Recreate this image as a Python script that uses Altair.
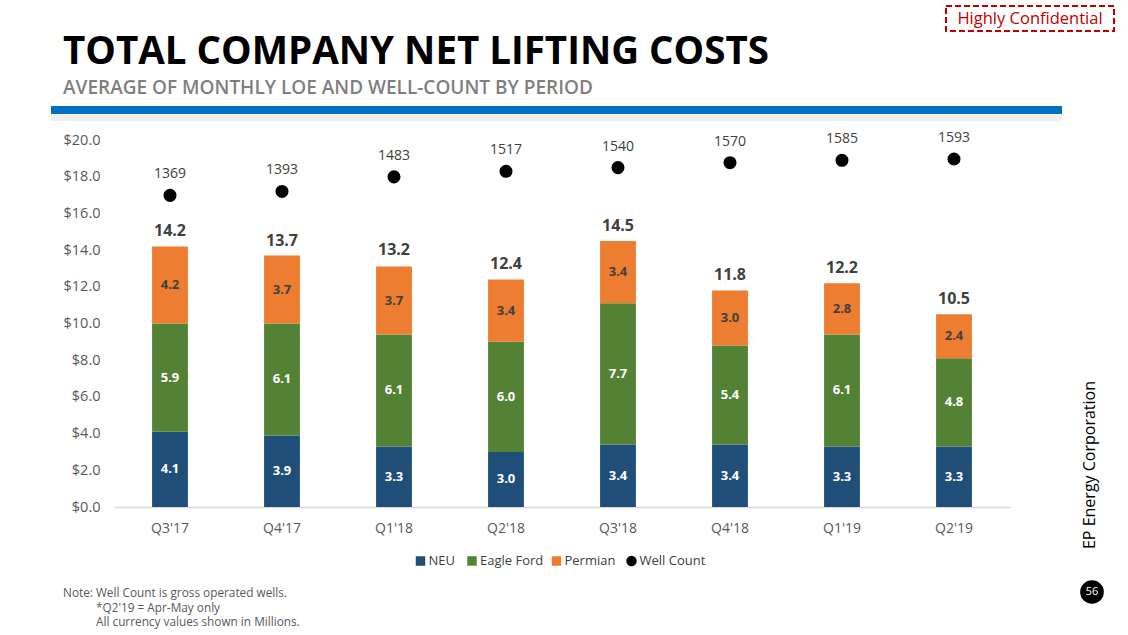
import altair as alt
import pandas as pd

# ---- data ----
quarters = ["Q3'17", "Q4'17", "Q1'18", "Q2'18", "Q3'18", "Q4'18", "Q1'19", "Q2'19"]
neu = [4.1, 3.9, 3.3, 3.0, 3.4, 3.4, 3.3, 3.3]
eagle_ford = [5.9, 6.1, 6.1, 6.0, 7.7, 5.4, 6.1, 4.8]
permian = [4.2, 3.7, 3.7, 3.4, 3.4, 3.0, 2.8, 2.4]
totals = [14.2, 13.7, 13.2, 12.4, 14.5, 11.8, 12.2, 10.5]
well_count = [1369, 1393, 1483, 1517, 1540, 1570, 1585, 1593]
series = ["NEU", "Eagle Ford", "Permian"]
colors = ["#1f4e79", "#548235", "#ed7d31"]
label_colors = ["#ffffff", "#ffffff", "#404040"]
y_ticks = [0, 2, 4, 6, 8, 10, 12, 14, 16, 18, 20]

FONT = "Open Sans"

rows = []
for qi, q in enumerate(quarters):
    base = 0.0
    for si, vals in enumerate([neu, eagle_ford, permian]):
        v = vals[qi]
        rows.append(dict(quarter=q, series=series[si], ord=si, y0=base, y1=base + v,
                         mid=base + v / 2, lab=f"{v:.1f}", lcolor=label_colors[si]))
        base += v
seg = pd.DataFrame(rows)
tot = pd.DataFrame({"quarter": quarters, "total": totals,
                    "lab": [f"{t:.1f}" for t in totals]})
wc = pd.DataFrame({"quarter": quarters, "wells": well_count,
                   "lab": [str(w) for w in well_count]})

xscale = alt.Scale(paddingInner=0.68, paddingOuter=0.34)
xaxis = alt.Axis(title=None, labelAngle=0, domainColor="#d9d9d9", domainWidth=1.5,
                 ticks=False, labelFont=FONT, labelFontSize=14, labelColor="#595959",
                 labelPadding=14)
xenc = alt.X("quarter:N", sort=quarters, scale=xscale, axis=xaxis)
yscale = alt.Scale(domain=[0, 20], nice=False, zero=True)
yaxis = alt.Axis(title=None, values=y_ticks, format="$.1f", domain=False, ticks=False,
                 grid=False, labelFont=FONT, labelFontSize=14.5, labelColor="#595959",
                 labelPadding=14)

bars = alt.Chart(seg).mark_bar().encode(
    x=xenc,
    y=alt.Y("y0:Q", scale=yscale, axis=yaxis),
    y2="y1:Q",
    color=alt.Color("series:N", scale=alt.Scale(domain=series, range=colors), legend=None),
)
seg_text = alt.Chart(seg).mark_text(font=FONT, fontSize=13, fontWeight="bold").encode(
    x=xenc,
    y=alt.Y("mid:Q", scale=yscale, axis=yaxis),
    text="lab:N",
    color=alt.Color("lcolor:N", scale=None),
)
tot_text = alt.Chart(tot).mark_text(font=FONT, fontSize=16, fontWeight="bold",
                                    color="#404040", baseline="bottom", dy=-7).encode(
    x=xenc,
    y=alt.Y("total:Q", scale=yscale, axis=yaxis),
    text="lab:N",
)
money = alt.layer(bars, seg_text, tot_text)

wscale = alt.Scale(domain=[-550, 1710], nice=False, zero=False)
dots = alt.Chart(wc).mark_circle(size=170, color="#000000", opacity=1).encode(
    x=xenc,
    y=alt.Y("wells:Q", scale=wscale, axis=None),
)
dot_text = alt.Chart(wc).mark_text(font=FONT, fontSize=14, color="#404040",
                                   baseline="bottom", dy=-14).encode(
    x=xenc,
    y=alt.Y("wells:Q", scale=wscale, axis=None),
    text="lab:N",
)
wells = alt.layer(dots, dot_text)


def txt(text, x, y, **kw):
    return alt.Chart(pd.DataFrame({"t": [text]})).mark_text(**kw).encode(
        x=alt.value(x), y=alt.value(y), text="t:N")


deco = [
    txt("TOTAL COMPANY NET LIFTING COSTS", -51, -76, font=FONT, fontSize=38.5,
        fontWeight="bold", color="#000000", align="left", baseline="alphabetic"),
    txt("AVERAGE OF MONTHLY LOE AND WELL-COUNT BY PERIOD", -51, -46.5, font=FONT,
        fontSize=19, fontWeight=600, color="#7f7f7f", align="left", baseline="alphabetic"),
    alt.Chart(pd.DataFrame({"a": [0]})).mark_rule(color="#0070c0", strokeWidth=8).encode(
        x=alt.value(-63), x2=alt.value(948), y=alt.value(-30)),
    alt.Chart(pd.DataFrame({"a": [0]})).mark_rule(color="#efefef", strokeWidth=6).encode(
        x=alt.value(-63), x2=alt.value(948), y=alt.value(-22)),
    alt.Chart(pd.DataFrame({"a": [0]})).mark_rect(fill=None, fillOpacity=0, stroke="#c00000",
                                                  strokeWidth=2, strokeDash=[6, 3]).encode(
        x=alt.value(832), x2=alt.value(1000), y=alt.value(-134), y2=alt.value(-109)),
    txt("Highly Confidential", 916, -121, font=FONT, fontSize=16.5, color="#c00000",
        align="center", baseline="middle"),
    txt("EP Energy Corporation", 976, 325, font=FONT, fontSize=16, color="#000000",
        align="center", baseline="middle", angle=270),
    alt.Chart(pd.DataFrame({"a": [0]})).mark_circle(size=560, color="#000000", opacity=1).encode(
        x=alt.value(978), y=alt.value(452)),
    txt("56", 978, 452, font=FONT, fontSize=11, color="#ffffff", align="center",
        baseline="middle"),
    txt("Note: Well Count is gross operated wells.", -51, 453, font=FONT, fontSize=11.8,
        color="#595959", align="left", baseline="middle"),
    txt("*Q2'19 = Apr-May only", -18, 467.5, font=FONT, fontSize=11.8,
        color="#595959", align="left", baseline="middle"),
    txt("All currency values shown in Millions.", -18, 482, font=FONT, fontSize=11.8,
        color="#595959", align="left", baseline="middle"),
]

# legend
leg_items = [("NEU", colors[0], 306.5, "square"), ("Eagle Ford", colors[1], 358, "square"),
             ("Permian", colors[2], 442.5, "square"), ("Well Count", "#000000", 517.5, "circle")]
for name, col, lx, shp in leg_items:
    if shp == "square":
        deco.append(alt.Chart(pd.DataFrame({"a": [0]})).mark_square(size=90, color=col, opacity=1)
                    .encode(x=alt.value(lx), y=alt.value(421)))
    else:
        deco.append(alt.Chart(pd.DataFrame({"a": [0]})).mark_circle(size=110, color=col, opacity=1)
                    .encode(x=alt.value(lx), y=alt.value(421)))
    deco.append(txt(name, lx + 8, 421, font=FONT, fontSize=13, color="#404040",
                    align="left", baseline="middle"))

chart = alt.layer(money, wells, *deco).resolve_scale(y="independent").properties(
    width=896, height=367,
    padding={"left": 114, "top": 140, "right": 118, "bottom": 128},
    autosize=alt.AutoSizeParams(type="none"),
    background="#ffffff",
).configure_view(stroke=None)

chart.save("out.html", embed_options={"renderer": "svg", "actions": False})
